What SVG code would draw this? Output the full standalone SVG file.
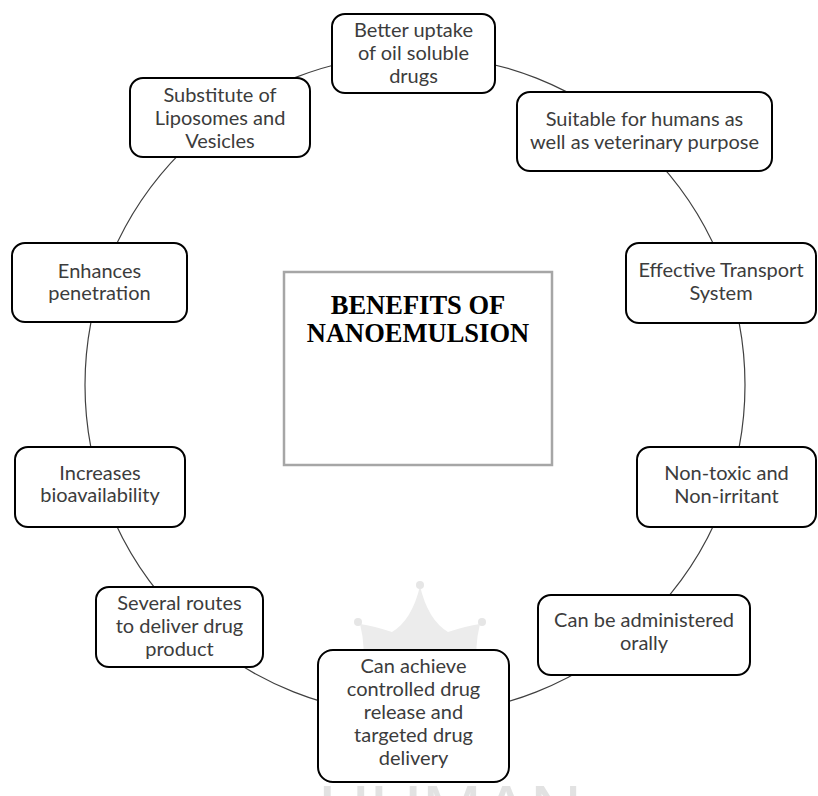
<svg xmlns="http://www.w3.org/2000/svg" width="818" height="796" viewBox="0 0 818 796">
<style>
.box{fill:#fff;stroke:#000;stroke-width:2}
.t{font-family:Lato,"Liberation Sans",sans-serif;font-size:20px;fill:#3c3c3c;text-anchor:middle}
.title{font-family:"Liberation Serif",serif;font-weight:bold;font-size:26.5px;fill:#000;text-anchor:middle}
.ring{fill:none;stroke:#404040;stroke-width:1.2}
</style>
<rect width="818" height="796" fill="#fff"/>
<g id="watermark">
<path d="M420 586 Q428 620 448 632 Q466 626 480 624 Q474 648 478 668 L362 668 Q366 648 360 624 Q374 626 392 632 Q412 620 420 586 Z" fill="#ececec"/>
<circle cx="420" cy="585" r="4" fill="#e6e6e6"/>
<circle cx="358" cy="622" r="4" fill="#e6e6e6"/>
<circle cx="482" cy="622" r="4" fill="#e6e6e6"/>
<text x="450" y="836" font-family="Liberation Sans,sans-serif" font-size="72" text-anchor="middle" fill="#e2e2e2">HUMAN</text>
</g>
<g id="connectors">
<circle class="ring" cx="415" cy="385" r="330"/>
</g>
<g id="center">
<rect x="284" y="272" width="268" height="193" fill="#fff" stroke="#a6a6a6" stroke-width="2.5"/>
<text class="title" x="418" y="314">BENEFITS OF</text>
<text class="title" x="418" y="342">NANOEMULSION</text>
</g>
<g id="n1">
<rect class="box" x="332" y="14" width="163" height="79" rx="13"/>
<text class="t" x="413.5" y="37">Better uptake</text>
<text class="t" x="413.5" y="60">of oil soluble</text>
<text class="t" x="413.5" y="83">drugs</text>
</g>
<g id="n2">
<rect class="box" x="517" y="92" width="255" height="79" rx="13"/>
<text class="t" x="644.5" y="126">Suitable for humans as</text>
<text class="t" x="644.5" y="149">well as veterinary purpose</text>
</g>
<g id="n3">
<rect class="box" x="130" y="78" width="180" height="79" rx="13"/>
<text class="t" x="220" y="102">Substitute of</text>
<text class="t" x="220" y="125">Liposomes and</text>
<text class="t" x="220" y="148">Vesicles</text>
</g>
<g id="n4">
<rect class="box" x="12" y="243" width="175" height="79" rx="13"/>
<text class="t" x="99.5" y="278">Enhances</text>
<text class="t" x="99.5" y="300">penetration</text>
</g>
<g id="n5">
<rect class="box" x="626" y="243" width="190" height="80" rx="13"/>
<text class="t" x="721" y="277">Effective Transport</text>
<text class="t" x="721" y="300">System</text>
</g>
<g id="n6">
<rect class="box" x="637" y="447" width="179" height="80" rx="13"/>
<text class="t" x="726.5" y="480">Non-toxic and</text>
<text class="t" x="726.5" y="503">Non-irritant</text>
</g>
<g id="n7">
<rect class="box" x="15" y="447" width="170" height="80" rx="13"/>
<text class="t" x="100" y="480">Increases</text>
<text class="t" x="100" y="502">bioavailability</text>
</g>
<g id="n8">
<rect class="box" x="96" y="587" width="167" height="80" rx="13"/>
<text class="t" x="179.5" y="610">Several routes</text>
<text class="t" x="179.5" y="633">to deliver drug</text>
<text class="t" x="179.5" y="656">product</text>
</g>
<g id="n9">
<rect class="box" x="538" y="595" width="212" height="80" rx="13"/>
<text class="t" x="644" y="627">Can be administered</text>
<text class="t" x="644" y="650">orally</text>
</g>
<g id="n10">
<rect class="box" x="318" y="650" width="191" height="132" rx="15"/>
<text class="t" x="413.5" y="673">Can achieve</text>
<text class="t" x="413.5" y="696">controlled drug</text>
<text class="t" x="413.5" y="719">release and</text>
<text class="t" x="413.5" y="742">targeted drug</text>
<text class="t" x="413.5" y="765">delivery</text>
</g>
</svg>
